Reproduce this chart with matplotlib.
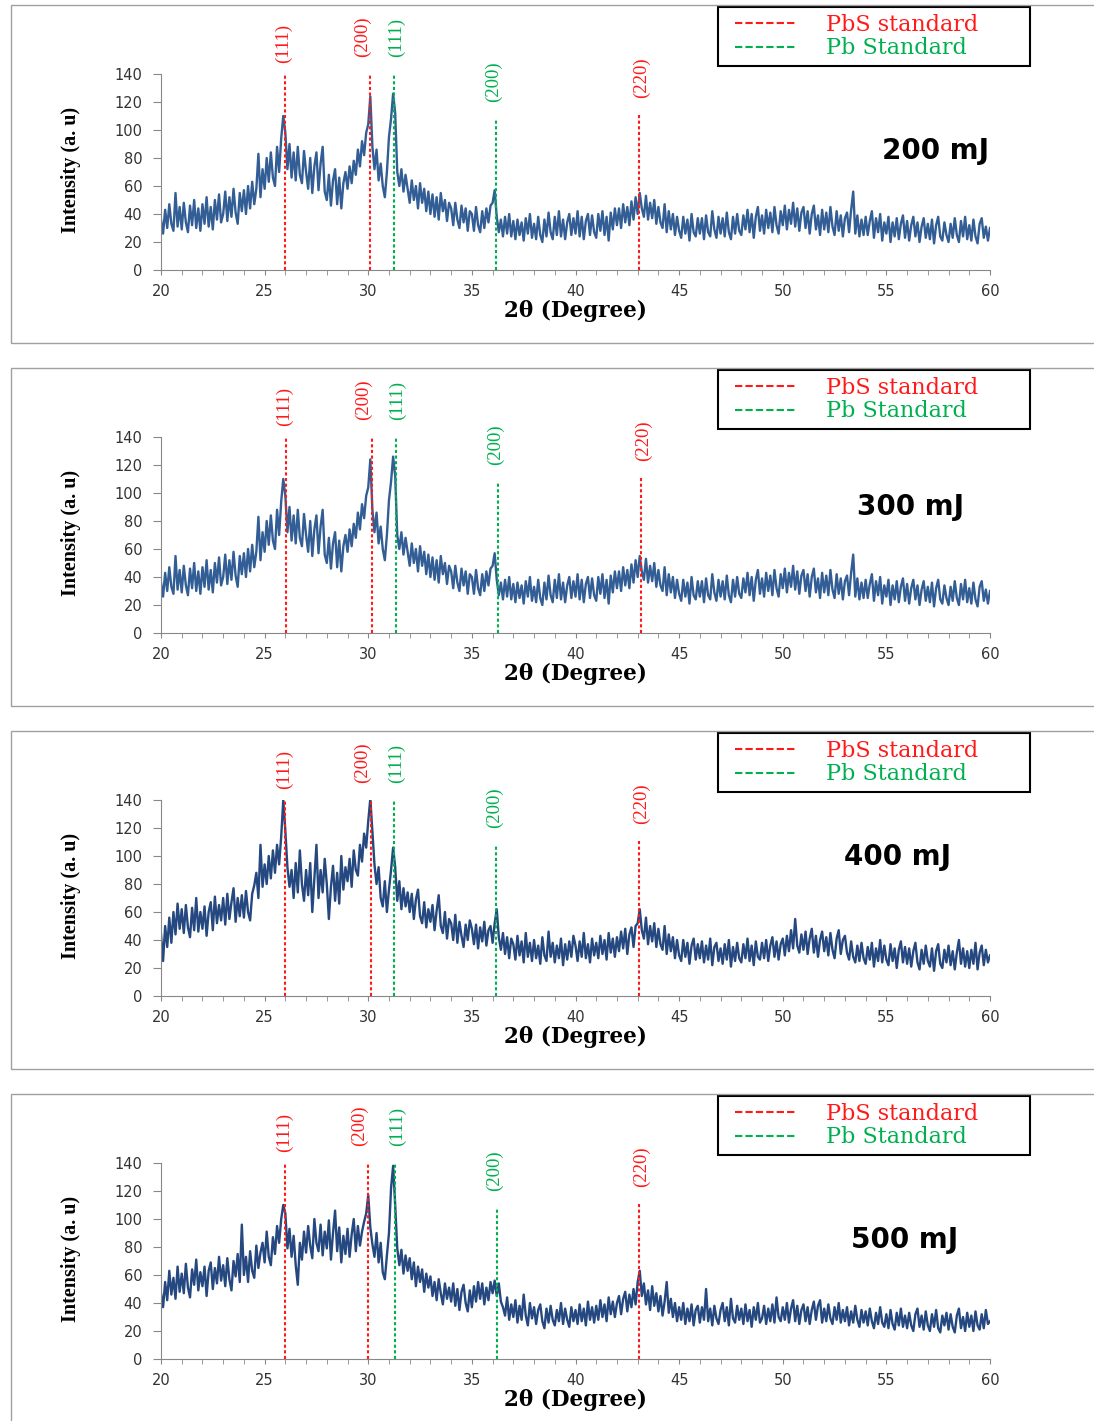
import numpy as np
import matplotlib
matplotlib.use("Agg")
from matplotlib import pyplot as plt
from matplotlib.lines import Line2D
from matplotlib.patches import Rectangle
from matplotlib.legend_handler import HandlerLine2D

# 2theta grid of the scans (0.1 deg step)
two_theta = np.linspace(20, 60, 401)

counts_200 = [
    36, 26, 43, 30, 47, 33, 28, 55, 31, 45,
    29, 48, 34, 27, 46, 32, 50, 30, 44, 28,
    47, 33, 52, 31, 45, 29, 50, 36, 54, 34,
    40, 56, 35, 52, 38, 58, 41, 33, 55, 42,
    57, 40, 60, 44, 63, 47, 58, 83, 52, 72,
    58, 80, 63, 84, 66, 60, 88, 70, 94, 110,
    98, 72, 90, 66, 84, 64, 88, 68, 62, 85,
    70, 58, 80, 55, 74, 84, 57, 76, 88, 56,
    50, 68, 46, 64, 72, 47, 66, 44, 62, 70,
    58, 74, 62, 78, 68, 86, 74, 92, 82, 98,
    104, 124, 88, 72, 86, 64, 76, 60, 52, 70,
    95, 108, 126, 112, 70, 60, 72, 56, 68, 58,
    48, 64, 50, 60, 44, 62, 48, 58, 42, 56,
    40, 54, 38, 52, 36, 55, 42, 50, 35, 48,
    44, 32, 48, 36, 30, 46, 34, 44, 28, 42,
    40, 28, 45, 32, 27, 42, 30, 44, 34, 46,
    48, 57, 38, 27, 36, 24, 38, 26, 40, 24,
    35, 22, 36, 25, 34, 21, 37, 26, 40, 23,
    33, 22, 38, 25, 20, 36, 24, 41, 27, 22,
    38, 25, 42, 24, 36, 22, 34, 40, 25, 37,
    26, 42, 24, 38, 22, 35, 40, 25, 39, 27,
    23, 40, 28, 42, 25, 38, 21, 41, 29, 44,
    32, 44, 30, 47, 34, 45, 32, 49, 36, 52,
    40, 55, 44, 38, 53, 36, 48, 37, 50, 33,
    45, 34, 30, 47, 27, 42, 29, 40, 25, 38,
    28, 23, 38, 26, 36, 21, 40, 27, 24, 37,
    26, 37, 22, 39, 27, 24, 42, 29, 23, 38,
    26, 37, 24, 41, 27, 22, 38, 26, 40, 28,
    25, 39, 29, 43, 27, 40, 23, 38, 45, 28,
    39, 26, 43, 30, 41, 27, 45, 32, 26, 42,
    32, 46, 29, 43, 33, 48, 31, 44, 28, 41,
    45, 30, 42, 26, 40, 46, 29, 39, 25, 43,
    29, 41, 27, 45, 31, 25, 42, 28, 39, 24,
    37, 41, 27, 43, 56, 26, 39, 24, 36, 25,
    38, 25, 35, 42, 23, 37, 27, 40, 21, 34,
    26, 38, 20, 34, 24, 37, 22, 33, 39, 23,
    35, 21, 32, 38, 24, 34, 20, 31, 37, 23,
    33, 22, 36, 19, 32, 38, 24, 21, 34, 25,
    20, 33, 23, 37, 25, 20, 35, 24, 38, 22,
    32, 21, 36, 24, 19, 33, 37, 23, 31, 21,
    30,
]

# the 300 mJ panel shows the same trace as the 200 mJ one
counts_300 = list(counts_200)

counts_400 = [
    44, 25, 50, 35, 56, 38, 60, 44, 66, 48,
    62, 45, 65, 49, 42, 63, 47, 70, 46, 60,
    48, 64, 43, 60, 67, 47, 71, 52, 65, 54,
    70, 51, 73, 55, 67, 77, 53, 70, 57, 72,
    56, 75, 60, 54, 73, 79, 88, 70, 108, 78,
    94, 80, 100, 84, 104, 88, 108, 94, 114, 140,
    118, 92, 78, 90, 70, 95, 74, 104, 80, 68,
    90, 72, 95, 60, 84, 108, 70, 90, 74, 98,
    80, 55, 78, 93, 68, 88, 66, 100, 76, 92,
    82, 98, 78, 104, 90, 86, 108, 96, 116, 106,
    125, 141, 118, 94, 80, 92, 70, 64, 82, 60,
    76, 90, 106, 92, 68, 82, 62, 77, 64, 74,
    60, 73, 55, 69, 76, 57, 52, 67, 49, 62,
    53, 65, 47, 61, 72, 50, 45, 60, 41, 55,
    52, 40, 58, 38, 53, 43, 35, 51, 40, 54,
    48, 37, 51, 34, 49, 39, 53, 36, 47, 50,
    38, 52, 62, 42, 33, 45, 30, 42, 27, 41,
    37, 26, 43, 29, 39, 24, 45, 28, 38, 25,
    40, 27, 36, 23, 42, 29, 25, 46, 28, 38,
    24, 36, 27, 41, 22, 37, 26, 39, 28, 43,
    36, 25, 39, 28, 45, 27, 37, 24, 41, 29,
    38, 27, 43, 30, 40, 26, 45, 31, 41, 28,
    42, 32, 46, 34, 48, 30, 44, 49, 35, 50,
    52, 62, 47, 41, 56, 37, 50, 39, 52, 35,
    48, 37, 33, 50, 30, 44, 32, 42, 27, 40,
    29, 25, 40, 28, 38, 23, 36, 41, 26, 37,
    27, 39, 24, 36, 26, 41, 22, 35, 38, 25,
    34, 23, 37, 26, 40, 21, 35, 25, 38, 27,
    24, 37, 27, 41, 25, 36, 22, 39, 28, 26,
    38, 27, 40, 25, 36, 42, 28, 39, 26, 37,
    41, 29, 43, 32, 47, 34, 55, 36, 31, 44,
    33, 46, 30, 41, 48, 31, 43, 28, 40, 46,
    32, 42, 29, 45, 33, 27, 41, 47, 30, 40,
    43, 31, 26, 39, 28, 24, 36, 25, 38, 27,
    23, 35, 26, 38, 21, 34, 25, 40, 24, 36,
    26, 22, 37, 25, 34, 20, 33, 39, 24, 35,
    23, 34, 21, 32, 38, 24, 19, 33, 23, 36,
    25, 21, 34, 18, 32, 37, 23, 20, 33, 24,
    36, 22, 32, 19, 31, 40, 23, 34, 21, 32,
    20, 33, 23, 38, 19, 31, 36, 22, 33, 24,
    29,
]

counts_500 = [
    47, 37, 55, 42, 63, 46, 58, 43, 66, 48,
    61, 47, 68, 51, 44, 64, 53, 71, 49, 62,
    52, 66, 45, 63, 69, 50, 65, 54, 73, 56,
    67, 52, 72, 57, 49, 70, 59, 75, 55, 96,
    60, 73, 55, 77, 63, 58, 81, 65, 76, 83,
    69, 91, 73, 67, 87, 75, 95, 83, 100, 110,
    104, 79, 93, 73, 88, 67, 53, 83, 71, 91,
    76, 95, 81, 72, 100, 83, 77, 96, 74, 91,
    79, 99, 71, 90, 106, 77, 94, 69, 88, 75,
    93, 73, 89, 100, 77, 95, 81, 91, 98, 104,
    117, 94, 82, 73, 90, 69, 83, 62, 57, 74,
    90, 122, 138, 110, 79, 67, 78, 61, 74, 63,
    72, 57, 69, 52, 66, 55, 64, 48, 61, 51,
    59, 45, 55, 42, 57, 47, 39, 54, 43, 51,
    41, 54, 38, 50, 35, 48, 53, 40, 34, 49,
    37, 52, 41, 55, 43, 54, 39, 51, 42, 55,
    47, 56, 45, 54, 41, 37, 31, 44, 28, 39,
    30, 42, 26, 38, 28, 46, 31, 24, 40, 29,
    37, 25, 35, 39, 27, 22, 36, 26, 38, 28,
    24, 35, 27, 40, 25, 36, 28, 23, 37, 27,
    35, 25, 39, 27, 36, 24, 41, 28, 37, 26,
    38, 28, 42, 30, 39, 27, 44, 32, 41, 30,
    40, 45, 32, 43, 48, 34, 46, 37, 50, 39,
    55, 63, 45, 54, 39, 49, 35, 52, 38, 47,
    34, 45, 31, 41, 55, 33, 43, 30, 40, 27,
    37, 28, 40, 25, 36, 27, 39, 24, 35, 38,
    26, 37, 28, 50, 27, 36, 24, 38, 29, 25,
    35, 40, 27, 37, 24, 43, 29, 26, 38, 28,
    36, 25, 39, 27, 35, 23, 37, 28, 40, 26,
    29, 38, 25, 36, 27, 39, 26, 44, 30, 27,
    37, 28, 40, 26, 36, 42, 27, 38, 25, 35,
    39, 27, 37, 25, 35, 41, 28, 38, 42, 26,
    36, 27, 39, 29, 25, 37, 28, 40, 26, 35,
    27, 37, 24, 34, 26, 38, 28, 23, 35, 26,
    34, 24, 36, 27, 22, 33, 25, 37, 26, 23,
    32, 22, 35, 25, 21, 33, 24, 36, 23, 31,
    22, 33, 24, 20, 32, 36, 23, 31, 21, 34,
    24, 20, 32, 23, 35, 22, 19, 31, 24, 33,
    21, 32, 23, 19, 31, 36, 22, 30, 20, 33,
    23, 31, 20, 34, 24, 21, 32, 22, 35, 25,
    27,
]

energies = ["200 mJ", "300 mJ", "400 mJ", "500 mJ"]
scans = [counts_200, counts_300, counts_400, counts_500]

# reference peak positions (deg) as marked in each panel
pbs_peaks = [[25.98, 30.1, 43.06], [26.03, 30.18, 43.15],
             [26.0, 30.12, 43.06], [26.0, 30.0, 43.04]]
pb_peaks = [[31.25, 36.15], [31.33, 36.25], [31.25, 36.18], [31.3, 36.2]]
pbs_hkl = ["(111)", "(200)", "(220)"]
pb_hkl = ["(111)", "(200)"]
pbs_tops = [139, 143, 111]
pb_tops = [139, 107]

# styling / layout (pixel numbers measured on the 1094x1421 original)
W, H = 1094, 1421
trace_colors = ["#325e95", "#325e95", "#24487f", "#24487f"]
red = "#ff1a1a"
green = "#00b050"
dotted = (0, (1.5, 1.2))
pbs_label_y = [148, 152, 123]
pb_label_y = [152, 120]
pbs_label_dx = [-0.05, -0.4, 0.12]
pb_label_dx = [0.1, -0.1]
energy_xy = [(57.35, 85), (56.15, 90), (55.55, 99), (55.9, 85)]
leg_fs = 16

fig = plt.figure(figsize=(W / 100, H / 100), dpi=100)

for i in range(4):
    off = 363 * i
    # panel frame
    fig.add_artist(Rectangle((11 / W, 1 - (343 + off) / H), 1.2, 338 / H,
                             transform=fig.transFigure, fill=False,
                             edgecolor="#a0a0a0", lw=1.0))

    ax = fig.add_axes([161 / W, 1 - (270 + off) / H, 829 / W, 196 / H])
    ax.set_facecolor("none")
    ax.plot(two_theta, scans[i], color=trace_colors[i], lw=1.7, zorder=2)

    for x, top, hkl, ly, dx in zip(pbs_peaks[i], pbs_tops, pbs_hkl, pbs_label_y, pbs_label_dx):
        ax.plot([x, x], [0, top], color=red, lw=1.5, ls=dotted, zorder=3)
        ax.text(x + dx, ly, hkl, color=red, rotation=90, ha="center", va="bottom",
                family="Liberation Serif", fontsize=13.5, clip_on=False)
    for x, top, hkl, ly, dx in zip(pb_peaks[i], pb_tops, pb_hkl, pb_label_y, pb_label_dx):
        ax.plot([x, x], [0, top], color=green, lw=1.5, ls=dotted, zorder=3)
        ax.text(x + dx, ly, hkl, color=green, rotation=90, ha="center", va="bottom",
                family="Liberation Serif", fontsize=13.5, clip_on=False)

    ax.set_xlim(20, 60)
    ax.set_ylim(0, 140)
    ax.set_xticks(np.arange(20, 61, 5))
    ax.set_xticks(np.arange(20, 61, 1), minor=True)
    ax.set_yticks(np.arange(0, 141, 20))
    for s in ["top", "right"]:
        ax.spines[s].set_visible(False)
    for s in ["left", "bottom"]:
        ax.spines[s].set_color("#888888")
    ax.tick_params(axis="x", which="both", direction="out", length=3.5, color="#888888",
                   pad=6.5, labelsize=10.5, labelcolor="#333333")
    ax.tick_params(axis="y", direction="out", length=5.5, color="#888888",
                   pad=8, labelsize=10.5, labelcolor="#333333")

    ax.set_xlabel("2θ (Degree)", family="DejaVu Serif", fontweight="bold",
                  fontsize=15.5, va="center")
    ax.xaxis.set_label_coords(0.5, -0.209)
    ax.set_ylabel("Intensity (a. u)", family="Liberation Serif", fontweight="bold",
                  fontsize=14.5, va="center")
    ax.yaxis.set_label_coords(-0.1086, 0.51)

    ex, ey = energy_xy[i]
    ax.text(ex, ey, energies[i], ha="center", va="center", fontsize=20,
            fontweight="bold", family="DejaVu Sans", color="black")

    handles = [Line2D([], [], color=red, lw=1.5, ls=(0, (3.5, 1.5))),
               Line2D([], [], color=green, lw=1.5, ls=(0, (3.5, 1.5)))]
    fs_px = leg_fs * 100 / 72
    leg = ax.legend(handles, ["PbS standard", "Pb Standard"], loc="upper left",
                    bbox_to_anchor=(718 / W, 1 - (68 + off) / H, 312 / W, 61 / H),
                    bbox_transform=fig.transFigure, mode="expand",
                    frameon=True, fancybox=False, framealpha=1, edgecolor="black",
                    borderaxespad=0, borderpad=0.3,
                    handlelength=(797 - 724.2) / fs_px, handletextpad=29 / fs_px,
                    labelspacing=0.08, labelcolor="linecolor",
                    handler_map={Line2D: HandlerLine2D(xpad=10.8 / fs_px)},
                    prop={"family": "DejaVu Serif", "size": leg_fs})
    leg.get_frame().set_linewidth(1.5)

fig.savefig("out.png", dpi=100)
